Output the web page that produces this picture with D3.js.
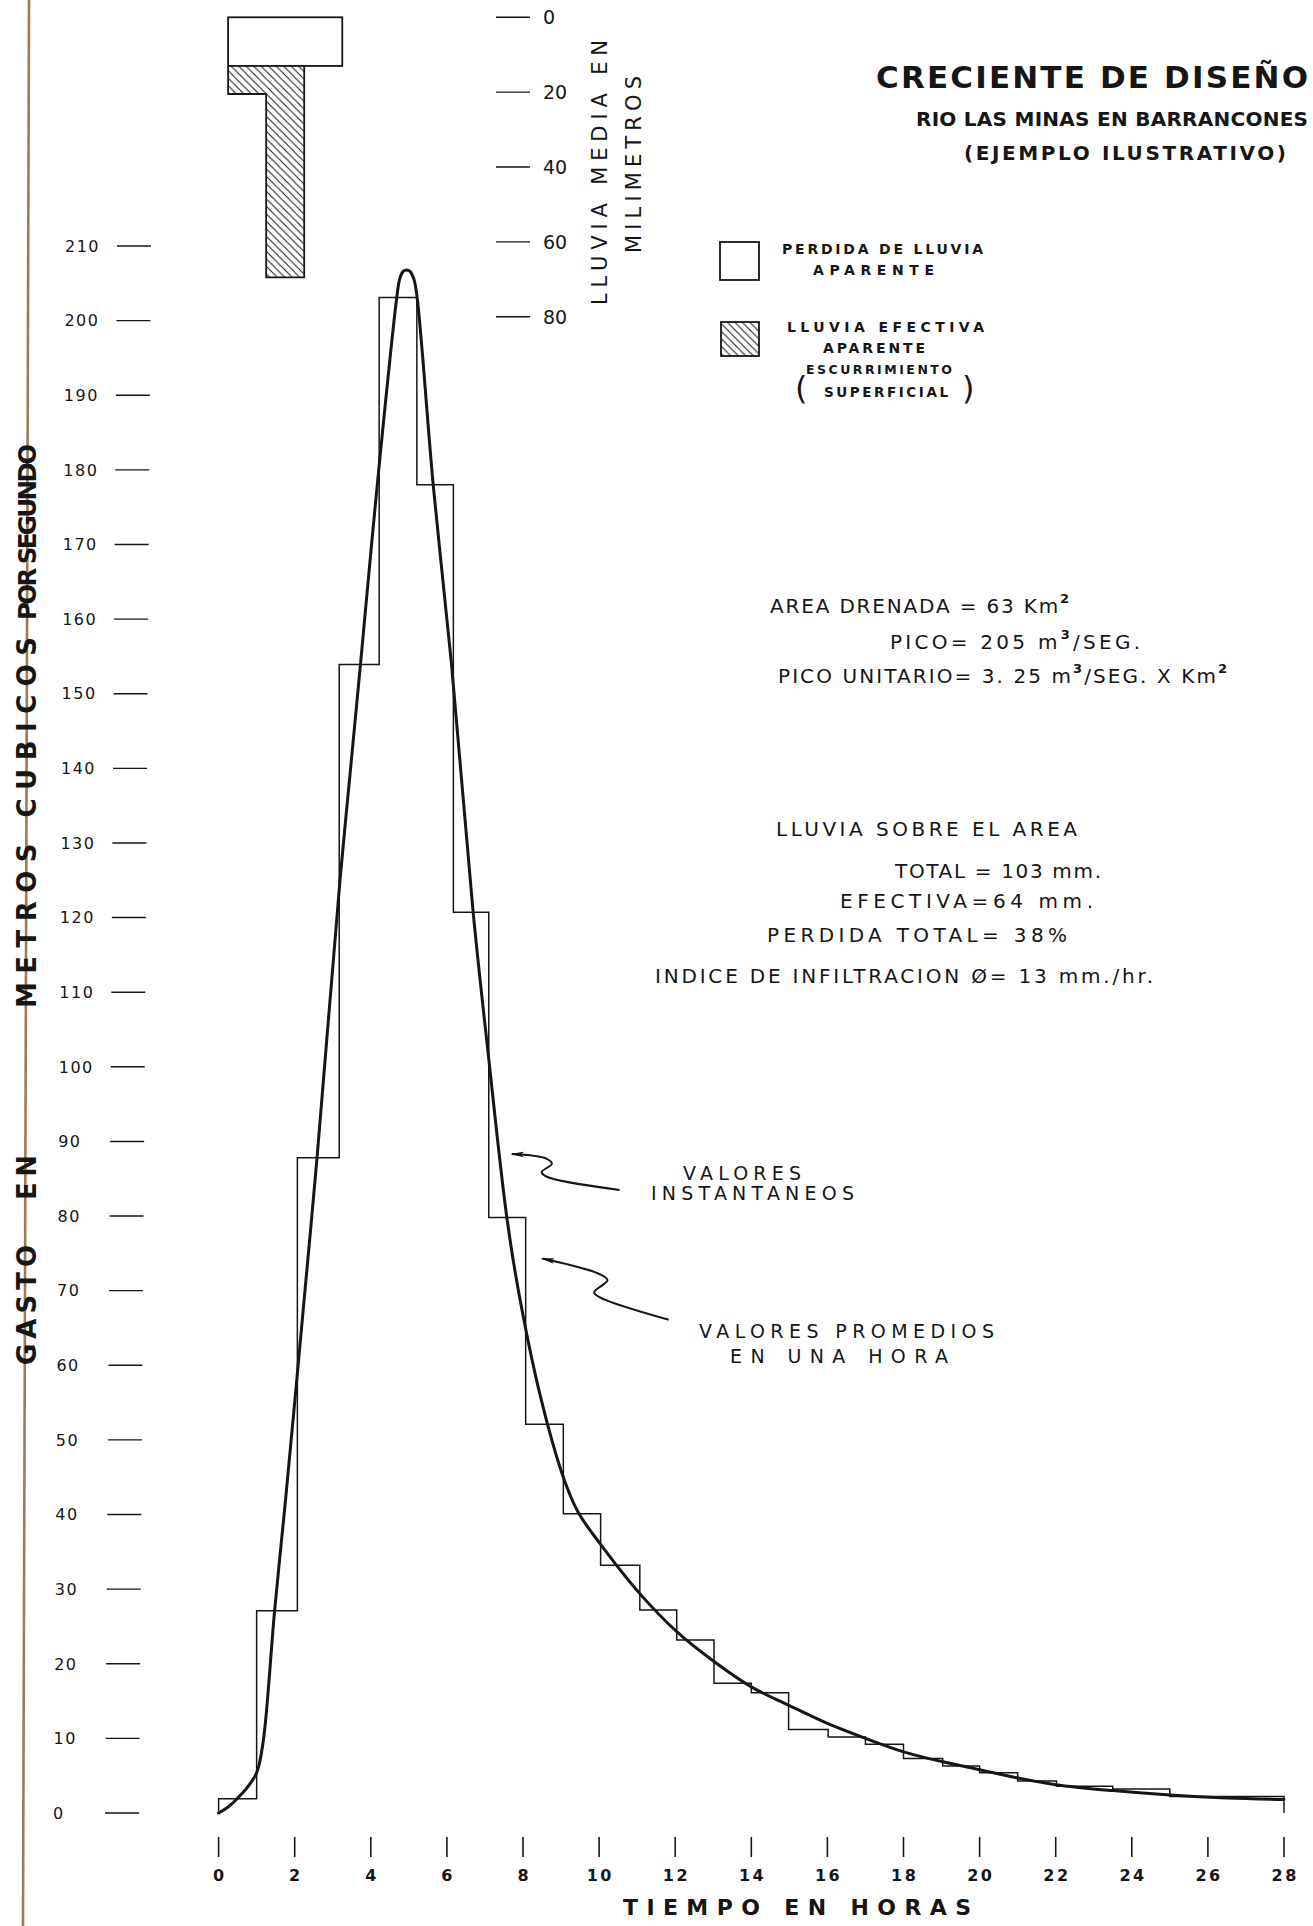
<!DOCTYPE html>
<html><head><meta charset="utf-8">
<script src="https://cdn.jsdelivr.net/npm/d3@7"></script>
<style>
html,body{margin:0;padding:0;background:#fff;}
svg{display:block;}
text{font-family:"DejaVu Sans",sans-serif;fill:#161616;}
</style>
</head><body>
<svg id="c" width="1313" height="1926"></svg>
<script>
// ---------------- DATA ----------------
// hourly mean discharge (step graph): step boundaries in hours and values m3/s
const hourEdges  = [0, 1.0, 2.07, 3.17, 4.22, 5.21, 6.17, 7.1, 8.07, 9.06, 10.04, 11.07, 12.04, 13.02, 14.0, 14.98, 16.02, 17.0, 18.0, 19.03, 20.0, 21.0, 22.02, 23.5, 25.0, 28.0];
const hourlyMean = [1.9, 27.1, 87.8, 153.9, 203.1, 178.0, 120.7, 79.8, 52.1, 40.1, 33.2, 27.2, 23.2, 17.4, 16.1, 11.2, 10.2, 9.2, 7.3, 6.3, 5.4, 4.3, 3.6, 3.2, 2.2];
// instantaneous hydrograph
const instTime = [0, 0.25, 0.5, 0.75, 1.0, 1.17, 1.47, 1.76, 2.27, 2.59, 3.19, 3.45, 3.73, 4.17, 4.68, 4.76, 4.85, 4.94, 5.03, 5.13, 5.22, 5.64, 6.12, 6.69, 7.08, 7.57, 7.88, 8.46, 9.06, 9.45, 10.04, 11.07, 12.04, 13.02, 14.0, 15.0, 16.0, 17.0, 18.0, 19.0, 20.0, 21.0, 22.0, 23.5, 25.0, 26.5, 28.0];
const instFlow = [0, 0.8, 2.0, 3.4, 5.4, 9.5, 27, 42, 70, 88, 125, 139, 154, 178, 203, 205.6, 206.6, 206.8, 206.6, 205.6, 203, 178, 154, 120.7, 102, 80, 70, 55.8, 45, 40.3, 36, 29.4, 24.3, 20.3, 16.9, 14.4, 12.0, 10.0, 8.2, 6.9, 5.8, 4.7, 3.8, 3.0, 2.4, 2.0, 1.8];
// hyetograph (mm per hour)
const rainHourStart = [0.25, 1.25, 2.25];
const rainTotal = [20.5, 69.5, 13];
const rainLoss  = [13, 13, 13];
// ticks
const flowTicks = d3.range(0, 211, 10);
const timeTicks = d3.range(0, 29, 2);
const rainTicks = [0, 20, 40, 60, 80];
// texts
const titleText = "CRECIENTE DE DISEÑO";
const subtitle1 = "RIO LAS MINAS EN BARRANCONES";
const subtitle2 = "(EJEMPLO ILUSTRATIVO)";
const legendLoss = ["PERDIDA DE LLUVIA", "APARENTE"];
const legendEff = ["LLUVIA EFECTIVA", "APARENTE", "ESCURRIMIENTO", "SUPERFICIAL"];
const xTitle = "TIEMPO EN HORAS";
const yTitleParts = ["GASTO", "EN", "METROS CUBICOS", "POR SEGUNDO"];
const rainTitle = ["LLUVIA MEDIA EN", "MILIMETROS"];
// annotation arrows (hours, m3/s)
const arrowInst = [[10.54,83.5],[8.61,85.3],[8.49,85.9],[8.76,87.0],[8.61,87.7],[7.71,88.3]];
const arrowMean = [[11.83,66.1],[10.02,69.1],[9.87,69.8],[10.22,71.4],[10.02,72.2],[8.51,74.3]];

// ---------------- SCALES ----------------
const svg = d3.select("#c");
const x = d3.scaleLinear().domain([0, 28]).range([218.6, 1284]);
const y = d3.scaleLinear().domain([0, 210]).range([1813, 246]);
const mm = d3.scaleLinear().domain([0, 80]).range([17.3, 316.7]);
const ink = "#161616";

function fit(sel, w) {
  sel.each(function() {
    const n = this.getNumberOfChars();
    this.style.letterSpacing = "0px";
    const w0 = this.getComputedTextLength();
    this.style.letterSpacing = ((w - w0) / Math.max(1, n - 1)) + "px";
  });
  return sel;
}
function txt(g, s, px, py, size, weight, width) {
  const t = g.append("text").attr("x", px).attr("y", py)
    .attr("font-size", size).attr("font-weight", weight || "normal").text(s);
  if (width) fit(t, width);
  return t;
}

svg.append("rect").attr("width", 1313).attr("height", 1926).attr("fill", "#fff");

// defs: hatch
const defs = svg.append("defs");
const pat = defs.append("pattern").attr("id", "hatch").attr("patternUnits", "userSpaceOnUse")
  .attr("width", 7.5).attr("height", 7.5);
pat.append("path").attr("d", "M-2,-2 L9.5,9.5 M-2,5.5 L2,9.5 M5.5,-2 L9.5,2")
  .attr("stroke", ink).attr("stroke-width", 1);
defs.append("marker").attr("id", "ah").attr("viewBox", "0 0 14 8").attr("refX", 12).attr("refY", 4)
  .attr("markerWidth", 14).attr("markerHeight", 8).attr("markerUnits", "userSpaceOnUse").attr("orient", "auto")
  .append("path").attr("d", "M0,1.5 L14,4 L0,7 L3,4 Z").attr("fill", ink);

// left brown page edge
svg.append("line").attr("x1", 29).attr("y1", 0).attr("x2", 23).attr("y2", 1926)
  .attr("stroke", "#9e7b55").attr("stroke-width", 2.6);

// ---------------- Y AXIS (flow) ----------------
const lean = d3.scaleLinear().domain([0, 210]).range([0, 12]);
const yt = svg.append("g").selectAll("g").data(flowTicks).join("g")
  .attr("transform", d => `translate(${lean(d)},${y(d)})`);
yt.append("line").attr("x1", 105).attr("x2", 139).attr("stroke", ink).attr("stroke-width", 1.4);
yt.append("text").attr("x", 53).attr("dy", "0.36em").attr("font-size", 16)
  .style("letter-spacing", "1.5px").text(d => d);

// y title (rotated)
const yTitlePos = [[1365, 120, 26], [1200, 45, 26], [1008, 371, 26], [620, 176, 24.5]];
yTitleParts.forEach((s, i) => {
  const t = svg.append("text").attr("transform", `translate(36,${yTitlePos[i][0]}) rotate(-90)`)
    .attr("font-size", yTitlePos[i][2]).attr("font-weight", "bold").text(s);
  fit(t, yTitlePos[i][1]);
});

// ---------------- X AXIS ----------------
const xt = svg.append("g").selectAll("g").data(timeTicks).join("g")
  .attr("transform", d => `translate(${x(d)},0)`);
xt.append("line").attr("y1", 1837).attr("y2", 1857).attr("stroke", ink).attr("stroke-width", 1.6);
xt.append("text").attr("y", 1881).attr("text-anchor", "middle").attr("font-size", 16)
  .attr("font-weight", "bold").style("letter-spacing", "2.5px").attr("dx", 1.2).text(d => d);
txt(svg, xTitle, 623, 1915, 22, "bold", 348);

// ---------------- RAIN AXIS ----------------
const rt = svg.append("g").selectAll("g").data(rainTicks).join("g")
  .attr("transform", d => `translate(0,${mm(d)})`);
rt.append("line").attr("x1", 496).attr("x2", 530).attr("stroke", ink).attr("stroke-width", 1.4);
rt.append("text").attr("x", 543).attr("dy", "0.36em").attr("font-size", 19).text(d => d);
[[607, 305, 265], [641, 253, 177]].forEach((p, i) => {
  const t = svg.append("text").attr("transform", `translate(${p[0]},${p[1]}) rotate(-90)`)
    .attr("font-size", 21).text(rainTitle[i]);
  fit(t, p[2]);
});

// ---------------- HYETOGRAPH ----------------
const hy = svg.append("g");
const nRain = rainTotal.length;
hy.append("rect").attr("x", x(rainHourStart[0])).attr("y", mm(0))
  .attr("width", x(rainHourStart[nRain - 1] + 1) - x(rainHourStart[0]))
  .attr("height", mm(d3.max(rainLoss)) - mm(0))
  .attr("fill", "none").attr("stroke", ink).attr("stroke-width", 1.8);
const effIdx = d3.range(nRain).filter(i => rainTotal[i] > rainLoss[i]);
hy.selectAll("rect.eff").data(effIdx).join("rect").attr("class", "eff")
  .attr("x", i => x(rainHourStart[i])).attr("width", i => x(rainHourStart[i] + 1) - x(rainHourStart[i]))
  .attr("y", i => mm(rainLoss[i])).attr("height", i => mm(rainTotal[i]) - mm(rainLoss[i]))
  .attr("fill", "url(#hatch)");
const outline = [];
effIdx.forEach((i, k) => {
  if (k === 0) outline.push([rainHourStart[i], rainLoss[i]]);
  outline.push([rainHourStart[i], rainTotal[i]]);
  outline.push([rainHourStart[i] + 1, rainTotal[i]]);
  if (k === effIdx.length - 1) outline.push([rainHourStart[i] + 1, rainLoss[i]]);
});
hy.append("path").attr("d", d3.line().x(d => x(d[0])).y(d => mm(d[1]))(outline))
  .attr("fill", "none").attr("stroke", ink).attr("stroke-width", 1.8);

// ---------------- HYDROGRAPH ----------------
const stepPts = [[hourEdges[0], 0]];
hourlyMean.forEach((v, i) => { stepPts.push([hourEdges[i], v]); stepPts.push([hourEdges[i + 1], v]); });
stepPts.push([hourEdges[hourEdges.length - 1], 0]);
svg.append("path").attr("d", d3.line().x(d => x(d[0])).y(d => y(d[1]))(stepPts))
  .attr("fill", "none").attr("stroke", ink).attr("stroke-width", 1.5).attr("stroke-linejoin", "miter");

const inst = instTime.map((t, i) => [t, instFlow[i]]);
svg.append("path").attr("d", d3.line().x(d => x(d[0])).y(d => y(d[1])).curve(d3.curveCatmullRom.alpha(0.5))(inst))
  .attr("fill", "none").attr("stroke", ink).attr("stroke-width", 3).attr("stroke-linecap", "round");

// annotation arrows
[arrowInst, arrowMean].forEach(a => {
  svg.append("path").attr("d", d3.line().x(d => x(d[0])).y(d => y(d[1])).curve(d3.curveCatmullRom)(a))
    .attr("fill", "none").attr("stroke", ink).attr("stroke-width", 2).attr("marker-end", "url(#ah)");
});
txt(svg, "VALORES", 683, 1180, 19, "normal", 118);
txt(svg, "INSTANTANEOS", 651, 1200, 19, "normal", 203);
txt(svg, "VALORES PROMEDIOS", 699, 1338, 19, "normal", 295);
txt(svg, "EN  UNA HORA", 730, 1363, 19, "normal", 218);

// ---------------- TITLE ----------------
txt(svg, titleText, 876, 88, 31, "bold", 432);
txt(svg, subtitle1, 916, 126, 20, "bold", 392);
txt(svg, subtitle2, 964, 160, 20, "bold", 322);

// ---------------- LEGEND ----------------
svg.append("rect").attr("x", 720).attr("y", 242).attr("width", 39).attr("height", 38)
  .attr("fill", "none").attr("stroke", ink).attr("stroke-width", 1.8);
svg.append("rect").attr("x", 721).attr("y", 322).attr("width", 38).attr("height", 34)
  .attr("fill", "url(#hatch)").attr("stroke", ink).attr("stroke-width", 1.8);
txt(svg, legendLoss[0], 782, 254, 14, "bold", 201);
txt(svg, legendLoss[1], 813, 275, 14, "bold", 121);
txt(svg, legendEff[0], 787, 332, 14, "bold", 197);
txt(svg, legendEff[1], 823, 353, 14, "bold", 102);
txt(svg, legendEff[2], 806, 374, 12.5, "bold", 146);
txt(svg, legendEff[3], 824, 397, 13.5, "bold", 124);
txt(svg, "(", 795, 399, 32, "normal");
txt(svg, ")", 962, 399, 32, "normal");

// ---------------- INFO BLOCK ----------------
const info = svg.append("g");
const fs = 20;
let t1 = info.append("text").attr("x", 770).attr("y", 613).attr("font-size", fs);
t1.append("tspan").text("AREA DRENADA = 63 Km"); t1.append("tspan").attr("dy", -10).attr("font-size", 13).attr("font-weight", "bold").text("2");
fit(t1, 299);
let t2 = info.append("text").attr("x", 890).attr("y", 649).attr("font-size", fs);
t2.append("tspan").text("PICO= 205 m"); t2.append("tspan").attr("dy", -10).attr("font-size", 13).attr("font-weight", "bold").text("3");
t2.append("tspan").attr("dy", 10).text("/SEG.");
fit(t2, 250);
let t3 = info.append("text").attr("x", 778).attr("y", 683).attr("font-size", fs);
t3.append("tspan").text("PICO UNITARIO= 3. 25 m"); t3.append("tspan").attr("dy", -10).attr("font-size", 13).attr("font-weight", "bold").text("3");
t3.append("tspan").attr("dy", 10).text("/SEG. X Km"); t3.append("tspan").attr("dy", -10).attr("font-size", 13).attr("font-weight", "bold").text("2");
fit(t3, 449);
txt(info, "LLUVIA SOBRE EL AREA", 776, 836, fs, "normal", 301);
txt(info, "TOTAL = 103 mm.", 895, 878, fs, "normal", 206);
txt(info, "EFECTIVA=64 mm.", 840, 908, fs, "normal", 253);
txt(info, "PERDIDA TOTAL= 38%", 767, 942, fs, "normal", 300);
txt(info, "INDICE DE INFILTRACION Ø= 13 mm./hr.", 655, 983, fs, "normal", 498);
</script>
</body></html>
